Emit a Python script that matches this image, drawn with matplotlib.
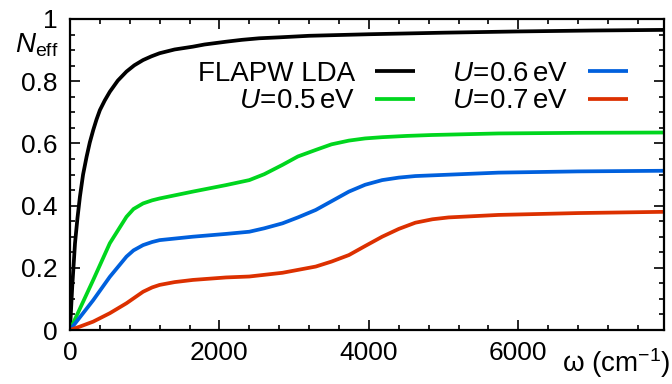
import numpy as np
import matplotlib
matplotlib.use("Agg")
import matplotlib.pyplot as plt
from matplotlib.ticker import MultipleLocator, FixedLocator, FixedFormatter

plt.rcParams['font.family'] = ['Liberation Sans', 'DejaVu Sans']
plt.rcParams['mathtext.fontset'] = 'custom'
plt.rcParams['mathtext.rm'] = 'Liberation Sans'
plt.rcParams['mathtext.it'] = 'Liberation Sans:italic'

# values (omega in cm^-1)
w_lda = [0, 30, 67, 100, 133, 175, 222, 265, 311, 355, 400, 465, 533, 640,
         756, 860, 978, 1090, 1200, 1400, 1644, 1800, 2089, 2300, 2533, 2800,
         3200, 4000, 5000, 6000, 7000, 7950]
n_lda = [0, 0.14, 0.279, 0.36, 0.429, 0.50, 0.557, 0.603, 0.643, 0.677,
         0.707, 0.738, 0.766, 0.802, 0.831, 0.851, 0.868, 0.880, 0.890,
         0.902, 0.911, 0.918, 0.927, 0.933, 0.938, 0.941, 0.946, 0.951,
         0.956, 0.960, 0.963, 0.965]

w_u05 = [0, 311, 533, 756, 850, 978, 1100, 1200, 1644, 2089, 2400, 2600,
         2844, 3050, 3289, 3500, 3733, 3950, 4178, 4500, 4844, 5733, 6800,
         7950]
n_u05 = [0, 0.161, 0.279, 0.364, 0.389, 0.407, 0.417, 0.423, 0.445, 0.466,
         0.482, 0.501, 0.531, 0.558, 0.579, 0.597, 0.609, 0.616, 0.620,
         0.624, 0.627, 0.632, 0.634, 0.635]

w_u06 = [0, 311, 533, 756, 850, 978, 1100, 1200, 1644, 2089, 2400, 2600,
         2844, 3050, 3289, 3500, 3733, 3950, 4178, 4400, 4622, 5733, 6800,
         7950]
n_u06 = [0, 0.096, 0.171, 0.236, 0.256, 0.273, 0.283, 0.289, 0.300, 0.309,
         0.316, 0.327, 0.343, 0.362, 0.386, 0.414, 0.445, 0.467, 0.482,
         0.490, 0.495, 0.506, 0.510, 0.512]

w_u07 = [0, 133, 311, 533, 756, 978, 1100, 1200, 1400, 1644, 2089, 2400,
         2844, 3289, 3500, 3733, 3950, 4178, 4400, 4622, 4850, 5067, 5733,
         6800, 7950]
n_u07 = [0, 0.011, 0.027, 0.054, 0.086, 0.123, 0.137, 0.145, 0.154, 0.161,
         0.169, 0.172, 0.184, 0.204, 0.220, 0.241, 0.270, 0.300, 0.325,
         0.345, 0.356, 0.362, 0.370, 0.376, 0.380]

labels = ["FLAPW LDA", r"$U\!=\!0.5\,$eV", r"$U\!=\!0.6\,$eV", r"$U\!=\!0.7\,$eV"]
colors = ["#000000", "#00d61e", "#0060dd", "#dc3000"]

y_ticks = [0, 0.2, 0.4, 0.6, 0.8, 1]
y_ticklabels = ["0", "0.2", "0.4", "0.6", "0.8", "1"]

fig = plt.figure(figsize=(6.72, 3.84), dpi=100)
ax = fig.add_axes([70 / 672, 54 / 384, 594 / 672, 311 / 384])

series = [(w_lda, n_lda), (w_u05, n_u05), (w_u06, n_u06), (w_u07, n_u07)]
for (w, n), lab, col in zip(series, labels, colors):
    ax.plot(w, n, color=col, lw=2.7, label=lab, solid_capstyle='butt',
            solid_joinstyle='round')

ax.set_xlim(0, 7950)
ax.set_ylim(0, 1)
ax.xaxis.set_major_locator(MultipleLocator(2000))
ax.xaxis.set_minor_locator(MultipleLocator(400))
ax.yaxis.set_major_locator(FixedLocator(y_ticks))
ax.yaxis.set_major_formatter(FixedFormatter(y_ticklabels))
ax.yaxis.set_minor_locator(MultipleLocator(0.05))

ax.tick_params(which='both', direction='in', top=True, right=True, width=1.2)
ax.tick_params(which='major', length=7, labelsize=19)
ax.tick_params(which='minor', length=3.5)
ax.tick_params(axis='y', which='major', pad=9)
ax.tick_params(axis='x', which='major', pad=8)
for s in ax.spines.values():
    s.set_linewidth(1.6)

ax.set_ylabel(r"$N_{\mathrm{eff}}$", rotation=0, fontsize=20, ha='right', va='center')
ax.yaxis.set_label_coords(-0.02, 0.915)
ax.set_xlabel("ω (cm$^{-1}$)", fontsize=20, ha='right', va='center')
ax.xaxis.set_label_coords(1.01, -0.105)

leg = ax.legend(ncol=2, markerfirst=False, frameon=False, fontsize=20,
                loc='upper right', bbox_to_anchor=(0.94, 0.865),
                borderpad=0, borderaxespad=0, handlelength=1.45,
                handletextpad=0.72, columnspacing=1.33, labelspacing=0.05)

fig.savefig("out.png", dpi=100)
